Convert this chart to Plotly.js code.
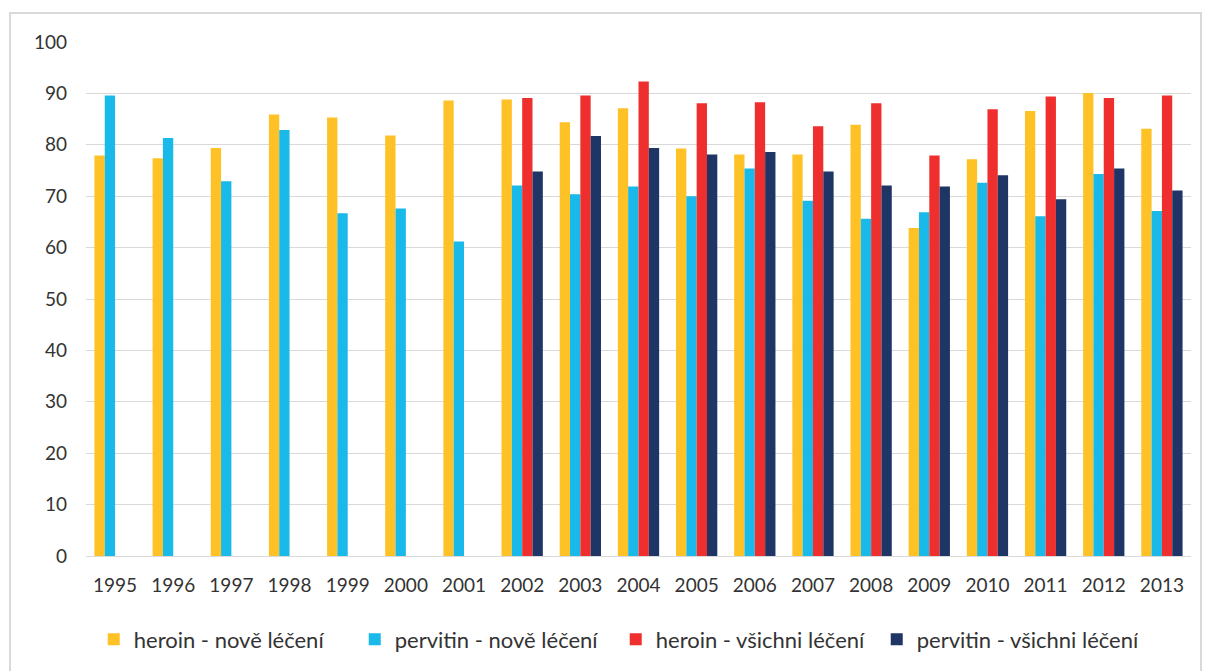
<!DOCTYPE html>
<html>
<head>
<meta charset="utf-8">
<script src="https://cdn.plot.ly/plotly-3.0.1.min.js"></script>
<style>
  html, body { margin: 0; padding: 0; width: 1208px; height: 671px; overflow: hidden; background: #fff; }
  #frame { position: absolute; left: 9px; top: 12px; width: 1193px; height: 720px; border: 2px solid #d9d9d9; box-sizing: border-box; }
  #chart { position: absolute; left: 0; top: 0; width: 1208px; height: 671px; }
</style>
</head>
<body>
<div id="frame"></div>
<div id="chart"></div>
<script>
const years = ['1995','1996','1997','1998','1999','2000','2001','2002','2003','2004','2005','2006','2007','2008','2009','2010','2011','2012','2013'];

const heroinNew     = [77.9, 77.4, 79.4, 85.9, 85.3, 81.8, 88.6, 88.8, 84.4, 87.1, 79.3, 78.1, 78.1, 83.9, 63.8, 77.2, 86.6, 90.1, 83.1];
const pervitinNew   = [89.6, 81.3, 72.9, 82.9, 66.7, 67.6, 61.2, 72.1, 70.4, 71.9, 70.0, 75.4, 69.1, 65.6, 66.9, 72.6, 66.1, 74.3, 67.1];
const heroinAll     = [null, null, null, null, null, null, null, 89.1, 89.6, 92.3, 88.1, 88.3, 83.6, 88.1, 77.9, 86.9, 89.4, 89.1, 89.6];
const pervitinAll   = [null, null, null, null, null, null, null, 74.8, 81.7, 79.4, 78.1, 78.6, 74.8, 72.1, 71.9, 74.1, 69.4, 75.4, 71.1];

const seriesNames = ['heroin - nově léčení', 'pervitin - nově léčení', 'heroin - všichni léčení', 'pervitin - všichni léčení'];
const seriesColors = ['#FFC226', '#19B9EA', '#EE2F2D', '#1F3566'];
const seriesValues = [heroinNew, pervitinNew, heroinAll, pervitinAll];

const traces = seriesValues.map((vals, i) => ({
  type: 'bar',
  x: years,
  y: vals,
  name: seriesNames[i],
  marker: { color: seriesColors[i], line: { width: 0 } },
  hoverinfo: 'x+y+name'
}));

const layout = {
  width: 1208,
  height: 671,
  paper_bgcolor: 'rgba(0,0,0,0)',
  plot_bgcolor: 'rgba(0,0,0,0)',
  margin: { l: 86, r: 17, t: 42, b: 114, pad: 0 },
  barmode: 'group',
  bargap: 0.29,
  bargroupgap: 0,
  font: { family: 'Lato, "Open Sans", sans-serif', size: 19, color: '#333333' },
  xaxis: {
    type: 'category',
    showgrid: false,
    showline: true,
    linecolor: '#d9d9d9',
    linewidth: 1,
    ticks: '',
    ticklabelstandoff: 12,
    tickfont: { family: 'Lato, sans-serif', size: 19, color: '#333333' }
  },
  yaxis: {
    range: [0, 100],
    dtick: 10,
    tick0: 0,
    showgrid: true,
    gridcolor: '#d9d9d9',
    gridwidth: 1,
    zeroline: true,
    zerolinecolor: '#d9d9d9',
    zerolinewidth: 1,
    showline: false,
    ticks: '',
    ticklabelstandoff: 18,
    tickfont: { family: 'Lato, sans-serif', size: 19, color: '#333333' }
  },
  showlegend: true,
  legend: {
    orientation: 'h',
    x: 0.007,
    xanchor: 'left',
    y: -0.16,
    yanchor: 'middle',
    entrywidth: 216,
    entrywidthmode: 'pixels',
    font: { family: 'Lato, sans-serif', size: 22, color: '#333333' },
    bgcolor: 'rgba(0,0,0,0)',
    traceorder: 'normal'
  }
};

Plotly.newPlot('chart', traces, layout, { displayModeBar: false, staticPlot: true });
</script>
</body>
</html>
